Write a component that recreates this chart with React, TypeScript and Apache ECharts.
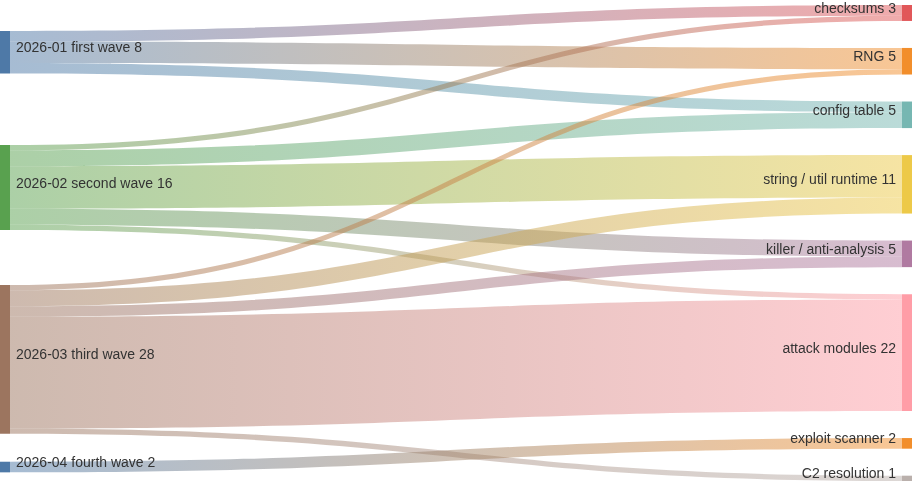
import { useEffect, useRef } from "react";
import * as echarts from "echarts";

const sources = [
  "2026-01 first wave",
  "2026-02 second wave",
  "2026-03 third wave",
  "2026-04 fourth wave",
];
const sourceColors = ["#4e79a7", "#59a14f", "#9c755f", "#4e79a7"];

const targets = [
  "checksums",
  "RNG",
  "config table",
  "string / util runtime",
  "killer / anti-analysis",
  "attack modules",
  "exploit scanner",
  "C2 resolution",
];
const targetColors = [
  "#e15759",
  "#f28e2b",
  "#76b7b2",
  "#edc948",
  "#b07aa1",
  "#ff9da7",
  "#f28e2b",
  "#bab0ac",
];

// [source index, target index, value]
const flows: [number, number, number][] = [
  [0, 0, 2],
  [0, 1, 4],
  [0, 2, 2],
  [1, 0, 1],
  [1, 2, 3],
  [1, 3, 8],
  [1, 4, 3],
  [1, 5, 1],
  [2, 1, 1],
  [2, 3, 3],
  [2, 4, 2],
  [2, 5, 21],
  [2, 7, 1],
  [3, 6, 2],
];

// vertical placement of the left column, as a share of the plot height
const sourcePlacement = [0.0546, 0.2941, 0.5882, 0.9595];

export default function App() {
  const chartRef = useRef<HTMLDivElement>(null);

  useEffect(() => {
    if (!chartRef.current) return;
    const chart = echarts.init(chartRef.current, null, { renderer: "svg" });

    const nodes = [
      ...sources.map((name, i) => ({
        name,
        localY: sourcePlacement[i],
        itemStyle: { color: sourceColors[i] },
        label: { position: "right" as const },
      })),
      ...targets.map((name, i) => ({
        name,
        itemStyle: { color: targetColors[i] },
        label: { position: "left" as const },
      })),
    ];

    const links = flows.map(([s, t, v]) => ({
      source: sources[s],
      target: targets[t],
      value: v,
    }));

    chart.setOption({
      animation: false,
      series: [
        {
          type: "sankey",
          left: 0,
          right: 8,
          top: 5,
          bottom: 5,
          nodeWidth: 10,
          nodeGap: 27,
          layoutIterations: 0,
          data: nodes,
          links: links,
          label: {
            show: true,
            color: "#333",
            fontSize: 14,
            distance: 6,
            offset: [0, -5],
            fontFamily: "Liberation Sans, Arial, sans-serif",
            formatter: "{b} {c}",
          },
          lineStyle: {
            color: "gradient",
            opacity: 0.5,
            curveness: 0.5,
          },
          itemStyle: { borderWidth: 0 },
        },
      ],
    });

    return () => {
      chart.dispose();
    };
  }, []);

  return (
    <div
      ref={chartRef}
      style={{ position: "fixed", left: 0, top: 0, width: 920, height: 486 }}
    />
  );
}
